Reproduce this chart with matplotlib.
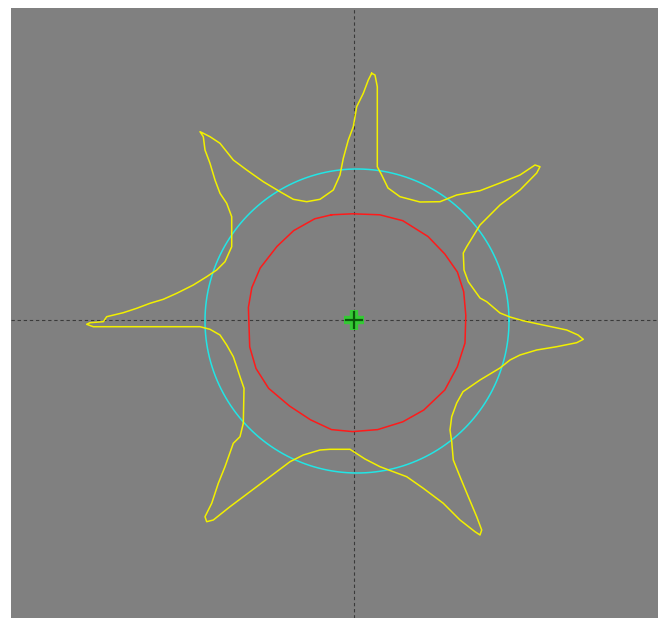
import numpy as np
import matplotlib
matplotlib.use("Agg")
import matplotlib.pyplot as plt

# Image-space coordinates (x right, y down), in pixels of the field of view
centroid = (354.0, 320.0)

circle_center = (357.0, 321.0)
circle_radius = 152.0

# Outer (yellow) contour: seven protrusions
outer_x = [371.7, 375, 377.3, 377.3, 381.7, 388, 400, 420, 440, 456.7, 480, 500, 520, 535, 540,
           536.7, 520, 500, 480, 466.7, 463.3, 464, 468.3, 480, 486.7, 500, 510, 523, 543, 566.7,
           578, 583.3, 576.7, 556.7, 536.7, 520, 510, 500, 480, 463, 456.7, 451.7, 450, 451.7,
           453.3, 460, 468.3, 476.7, 481.7, 480, 475, 460, 443.3, 423.3, 406.7, 393.3, 380, 365,
           350, 330, 320, 303.3, 290, 270, 250, 230, 213.3, 206.7, 205, 211.7, 218.3, 225, 233.3,
           240, 243.3, 244, 240, 236.7, 233.3, 226.7, 220, 210, 200, 93.3, 86.7, 90, 103.3, 106.7,
           123.3, 136.7, 150, 163.3, 176.7, 193.3, 206.7, 216.7, 225, 231.7, 231.7, 226.7, 220,
           215, 210, 205, 203.3, 200, 203.3, 210, 220, 233.3, 246.7, 263.3, 280, 293.3, 306.7,
           320, 333.3, 340, 343.3, 348.3, 353.3, 356.7, 363.3, 368.3, 371.7]
outer_y = [73.3, 75, 86.7, 166.7, 175, 188, 196.7, 202, 201.7, 195, 190.7, 183, 175, 165, 166.7,
           173, 190, 205, 225, 246.7, 253, 270, 281.7, 298, 301.7, 313, 317, 320.7, 325, 330,
           335, 339.3, 342.7, 346.7, 350, 355, 360, 368, 380, 391.7, 403, 416.7, 430, 441.7,
           460, 476.7, 496.7, 516.7, 530, 535, 531.7, 520, 503.3, 488.3, 476.7, 471.7, 466.7, 459,
           449.3, 449.3, 450, 455, 461.7, 476.7, 491.7, 506.7, 520, 521.7, 516.7, 503.3, 483.3,
           466.7, 443.3, 436.7, 423.3, 388.3, 376.7, 366.7, 356.7, 345, 335, 329.3, 326.7, 326.7,
           324.3, 322.7, 321.7, 316.7, 312.7, 308.3, 303.3, 299.3, 293.3, 285, 276.7, 270, 261.7,
           246.7, 216.7, 203.3, 193.3, 180, 163.3, 150, 136.7, 131.7, 133.3, 136.7, 143.3, 160,
           170, 181.7, 191.7, 199.3, 201.7, 199.3, 190, 175, 158.3, 140, 126.7, 106.7, 93.3, 80,
           73.3]

# Inner (red) contour
inner_x = [331.5, 352.5, 379.8, 402.8, 428, 444.8, 457.4, 463.7, 465.8, 465, 457.4, 444.8,
           423.8, 402.8, 377.7, 352.5, 331.5, 310.5, 289.5, 268.6, 256, 249.7, 248.4, 251.8,
           260.2, 277, 293.7, 314.7, 331.5]
inner_y = [214.8, 213.8, 214.8, 220.7, 236.5, 254, 272, 291.7, 315.3, 343, 366.6, 390, 410,
           421.8, 429.6, 431.6, 429.6, 419.8, 406, 388.3, 368.5, 346.9, 307.4, 287.7, 268,
           246.4, 230.6, 218.8, 214.8]

W, H = 658, 618
fig = plt.figure(figsize=(W / 100, H / 100), dpi=100)
fig.patch.set_facecolor("white")
ax = fig.add_axes([11 / W, 0, (W - 11) / W, (H - 8) / H])
ax.set_facecolor("#808080")
ax.set_xlim(11, W)
ax.set_ylim(H, 8)
ax.set_axis_off()
ax.add_patch(plt.Rectangle((11, 8), W - 11, H - 8, facecolor="#808080", edgecolor="none", zorder=0))

# Crosshair through the centroid
ax.axvline(centroid[0], color="#3a3a3a", lw=0.8, dashes=(3, 2.5), zorder=1)
ax.axhline(centroid[1], color="#3a3a3a", lw=0.8, dashes=(3, 2.5), zorder=1)

# Reference circle
t = np.linspace(0, 2 * np.pi, 400)
ax.plot(circle_center[0] + circle_radius * np.cos(t),
        circle_center[1] + circle_radius * np.sin(t),
        color="#22e5e5", lw=1.1, zorder=2)

# Contours
ax.plot(inner_x, inner_y, color="#ff1a1a", lw=1.1, zorder=3)
ax.plot(outer_x, outer_y, color="#f2f000", lw=1.1, zorder=4)

# Centroid marker with glow
ax.plot(*centroid, marker="+", ms=14, mew=6, color="#22dd22", alpha=0.8, zorder=5)
ax.plot(*centroid, marker="+", ms=13, mew=1.6, color="#0a5a0a", zorder=6)

fig.savefig("out.png", dpi=100, facecolor="white")
